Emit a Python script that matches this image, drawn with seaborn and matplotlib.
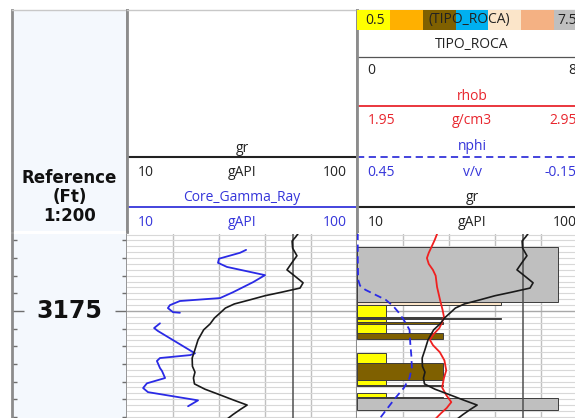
import numpy as np
import pandas as pd
import matplotlib
matplotlib.use("Agg")
import matplotlib.pyplot as plt
from matplotlib.ticker import FixedLocator, MultipleLocator
import seaborn as sns

# ---------------- data ----------------
gr_depth = [3161.5, 3162.4, 3163.1, 3164.3, 3165.6, 3166.8, 3168.0, 3169.0, 3170.2,
            3171.1, 3171.8, 3172.4, 3173.1, 3173.8, 3174.5, 3175.3, 3176.2, 3177.2,
            3178.2, 3179.9, 3181.7, 3183.0, 3184.4, 3185.4, 3186.4, 3187.4, 3188.3,
            3189.2, 3190.2, 3191.0, 3191.7, 3192.6, 3193.6]
gr_api = [77.5, 76.0, 74.6, 74.8, 76.5, 74.5, 72.6, 75.5, 78.9,
          77.7, 70.5, 64.0, 58.1, 52.0, 48.5, 46.5, 44.2, 42.5,
          40.0, 37.8, 36.5, 35.5, 35.6, 36.6, 36.0, 36.4, 40.5,
          46.0, 52.0, 57.0, 54.5, 51.5, 48.5]

core_depth = [3164.6, 3165.1, 3166.1, 3166.8, 3167.5, 3168.9, 3170.1, 3171.8, 3172.8,
              3173.3, 3174.0, 3174.5, 3175.2, 3175.3,
              3177.1, 3177.9, 3178.4, 3182.2, 3182.5, 3183.0, 3183.5, 3184.7, 3185.2,
              3186.4, 3187.3, 3188.1, 3188.8, 3190.2, 3191.2]
core_api = [56.6, 54.2, 46.0, 45.6, 49.1, 64.0, 59.3, 51.5, 46.4,
            30.7, 26.8, 26.0, 28.0, 30.7,
            22.9, 20.6, 22.1, 36.6, 34.7, 22.9, 21.7, 22.9, 23.7,
            24.9, 17.8, 16.3, 18.2, 37.8, 33.9]
core_run = [1] * 14 + [2] * 15

rhob_depth = [3161.7, 3162.9, 3164.1, 3165.1, 3166.0, 3167.0, 3168.0, 3169.0, 3170.9,
              3173.1, 3174.8, 3176.0, 3177.1, 3177.9, 3178.9, 3179.9, 3180.8, 3182.0,
              3183.4, 3185.1, 3186.4, 3188.0, 3189.3, 3190.5, 3191.5, 3192.4, 3193.4]
rhob_gcc = [2.300, 2.288, 2.274, 2.262, 2.254, 2.262, 2.280, 2.292, 2.298,
            2.311, 2.322, 2.328, 2.318, 2.308, 2.284, 2.267, 2.280, 2.310,
            2.330, 2.338, 2.328, 2.320, 2.338, 2.360, 2.340, 2.315, 2.290]

nphi_depth = [3161.7, 3166.3, 3169.7, 3170.7, 3171.4, 3172.3, 3173.1, 3174.2, 3175.2,
              3176.5, 3178.2, 3180.5, 3182.8, 3184.6, 3186.4, 3188.1, 3189.8, 3191.5, 3193.4]
nphi_vv = [0.448, 0.448, 0.447, 0.442, 0.428, 0.400, 0.375, 0.355, 0.342,
           0.328, 0.313, 0.311, 0.308, 0.307, 0.313, 0.328, 0.350, 0.370, 0.392]

rock_top = [3164.1, 3173.5, 3174.0, 3176.0, 3176.2, 3176.4, 3176.9, 3177.2, 3178.8,
            3182.2, 3183.9, 3186.8, 3187.6, 3189.0, 3189.7, 3189.8]
rock_base = [3173.5, 3174.0, 3176.0, 3176.2, 3176.4, 3176.9, 3177.2, 3178.8, 3179.8,
             3183.9, 3186.8, 3187.6, 3187.8, 3189.7, 3189.8, 3191.9]
rock_code = [7, 5, 1, 3, 5, 1, 3, 1, 3, 1, 3, 1, 3, 1, 3, 7]

rock_classes = [1, 2, 3, 4, 5, 6, 7]
rock_colors = ['#FFFF00', '#FFB000', '#7F6000', '#00B0F0', '#FBE5C9', '#F4B183', '#BFBFBF']

gr_cutoff = 75
depth_label = 3175
depth_top, depth_base = 3161.9, 3193.2

# ---------------- styling ----------------
sns.set_style("white")
plt.rcParams['font.family'] = ['Open Sans', 'DejaVu Sans']
plt.rcParams['font.size'] = 10

BLACK = '#222222'
BLUE = '#3535DA'
RED = '#E8262E'
BORDER = '#8C8C8C'

W, H = 575, 418


def box(x0, y0, x1, y1):
    # pixel box (top-left origin) -> figure fraction
    return [x0 / W, 1 - y1 / H, (x1 - x0) / W, (y1 - y0) / H]


def header_axes(fig, x0, x1, face='white'):
    ax = fig.add_axes(box(x0, 10, x1, 231))
    ax.set_xlim(0, 1)
    ax.set_ylim(231, 10)
    ax.set_xticks([])
    ax.set_yticks([])
    ax.set_facecolor(face)
    ax.spines['bottom'].set_visible(False)
    ax.spines['top'].set_color('#C8C8C8')
    ax.spines['top'].set_linewidth(1)
    for s in ['left', 'right']:
        ax.spines[s].set_color(BORDER)
        ax.spines[s].set_linewidth(2)
    return ax


def curve_header(ax, name_y, line_y, name, unit, lo, hi, color, ls='-', lw=1.3):
    ax.text(0.5, name_y, name, color=color, ha='center', va='center')
    ax.axhline(line_y, color=color, lw=lw, ls=ls)
    ax.text(0.045, line_y + 15, lo, color=color, ha='left', va='center')
    ax.text(0.5, line_y + 15, unit, color=color, ha='center', va='center')
    ax.text(0.955, line_y + 15, hi, color=color, ha='right', va='center')


def track_grid(ax, xticks):
    ax.set_xticks(xticks)
    ax.yaxis.set_major_locator(FixedLocator([depth_label]))
    ax.yaxis.set_minor_locator(MultipleLocator(1))
    ax.grid(True, axis='y', which='minor', color='#D8D8D8', lw=0.8)
    ax.grid(True, axis='y', which='major', color='#A8A8A8', lw=1)
    ax.grid(True, axis='x', which='major', color='#C0C0C0', lw=1)
    ax.tick_params(which='both', length=0, labelbottom=False, labelleft=False)
    ax.set_axisbelow(True)
    for s in ['top', 'bottom', 'left']:
        ax.spines[s].set_visible(False)
    ax.spines['right'].set_color(BORDER)
    ax.spines['right'].set_linewidth(1.5)


def overlay(ax, xlim):
    tw = ax.twiny()
    tw.set_xlim(*xlim)
    tw.set_xticks([])
    for s in tw.spines.values():
        s.set_visible(False)
    return tw


def clean(ax):
    ax.set_xlabel('')
    ax.set_ylabel('')


fig = plt.figure(figsize=(W / 100, H / 100), dpi=100)

# ---------------- headers ----------------
hd = header_axes(fig, 12, 127, face='#F4F8FD')
for y, txt in [(178, 'Reference'), (197, '(Ft)'), (216, '1:200')]:
    hd.text(0.5, y, txt, ha='center', va='center', fontsize=12,
            fontweight='bold', family='DejaVu Sans', color='#111111')

h2 = header_axes(fig, 127, 357)
curve_header(h2, 148, 157, 'gr', 'gAPI', '10', '100', BLACK, lw=1.5)
curve_header(h2, 197, 207, 'Core_Gamma_Ray', 'gAPI', '10', '100', BLUE)

h3 = header_axes(fig, 357, 587)
h3.text(0.5, 44, 'TIPO_ROCA', color=BLACK, ha='center', va='center')
h3.axhline(57, color='#555555', lw=0.9)
h3.text(0.045, 70, '0', color=BLACK, ha='left', va='center')
h3.text(0.955, 70, '8', color=BLACK, ha='right', va='center')
curve_header(h3, 96, 106, 'rhob', 'g/cm3', '1.95', '2.95', RED)
curve_header(h3, 147, 157, 'nphi', 'v/v', '0.45', '-0.15', BLUE, ls=(0, (4, 2.5)))
curve_header(h3, 197, 207, 'gr', 'gAPI', '10', '100', BLACK, lw=1.5)

cb = fig.add_axes(box(357, 10, 587, 30))
cb.bar(rock_classes, 1, width=1, color=rock_colors, linewidth=0)
cb.set_xlim(0.5, 7.5)
cb.set_ylim(0, 1)
cb.axis('off')
cb.text(0.035, 0.5, '0.5', transform=cb.transAxes, ha='left', va='center', color=BLACK)
cb.text(0.49, 0.5, '(TIPO_ROCA)', transform=cb.transAxes, ha='center', va='center', color=BLACK)
cb.text(0.955, 0.5, '7.5', transform=cb.transAxes, ha='right', va='center', color=BLACK)

# ---------------- depth track ----------------
ad = fig.add_axes(box(12, 234, 127, 418))
ad.set_facecolor('#F4F8FD')
ad.set_xlim(0, 1)
ad.set_ylim(depth_base, depth_top)
ad.set_xticks([])
ad.yaxis.set_major_locator(FixedLocator([depth_label]))
ad.yaxis.set_minor_locator(FixedLocator(np.arange(3163, 3194, 3)))
ad.tick_params(axis='y', which='both', direction='in', left=True, right=True,
               labelleft=False, color='#6E6E6E', width=1)
ad.tick_params(axis='y', which='major', length=8.5)
ad.tick_params(axis='y', which='minor', length=3.8)
for s in ['top', 'bottom']:
    ad.spines[s].set_visible(False)
for s in ['left', 'right']:
    ad.spines[s].set_color(BORDER)
    ad.spines[s].set_linewidth(2)
ad.text(0.5, depth_label, str(depth_label), ha='center', va='center',
        fontsize=17, fontweight='bold', family='DejaVu Sans', color='#111111')

# ---------------- track 2: gamma ray ----------------
a2 = fig.add_axes(box(127, 234, 357, 418))
a2.set_xlim(10, 100)
a2.set_ylim(depth_base, depth_top)
track_grid(a2, [28, 46, 64, 82])
a2.axvline(gr_cutoff, color='#505050', lw=1.1)

core_df = pd.DataFrame({'depth': core_depth, 'gr': core_api, 'run': core_run})
sns.lineplot(data=core_df, x='gr', y='depth', units='run', estimator=None, sort=False,
             color='#2A2AE6', lw=1.3, ax=a2, legend=False)
gr_df = pd.DataFrame({'depth': gr_depth, 'gr': gr_api})
sns.lineplot(data=gr_df, x='gr', y='depth', estimator=None, sort=False,
             color='#1A1A1A', lw=1.2, ax=a2, legend=False)
clean(a2)
a2.set_xlim(10, 100)

# ---------------- track 3: rock type + density/neutron + gr ----------------
a3 = fig.add_axes(box(357, 234, 587, 418))
a3.set_xlim(0, 8)
a3.set_ylim(depth_base, depth_top)
track_grid(a3, [1.6, 3.2, 4.8, 6.4])
a3.barh(rock_top, rock_code, height=np.subtract(rock_base, rock_top), align='edge',
        color=[rock_colors[c - 1] for c in rock_code], edgecolor='#3C3C3C', lw=0.7)

ar = overlay(a3, (1.95, 2.95))
rhob_df = pd.DataFrame({'depth': rhob_depth, 'rhob': rhob_gcc})
sns.lineplot(data=rhob_df, x='rhob', y='depth', estimator=None, sort=False,
             color='#F02020', lw=1.3, ax=ar, legend=False)
clean(ar)
ar.set_xlim(1.95, 2.95)

an = overlay(a3, (0.45, -0.15))
nphi_df = pd.DataFrame({'depth': nphi_depth, 'nphi': nphi_vv})
sns.lineplot(data=nphi_df, x='nphi', y='depth', estimator=None, sort=False,
             color='#2A2AE6', lw=1.3, ls=(0, (4, 2.5)), ax=an, legend=False)
clean(an)
an.set_xlim(0.45, -0.15)

ag = overlay(a3, (10, 100))
ag.axvline(gr_cutoff, color='#505050', lw=1.1)
sns.lineplot(data=gr_df, x='gr', y='depth', estimator=None, sort=False,
             color='#1A1A1A', lw=1.2, ax=ag, legend=False)
clean(ag)
ag.set_xlim(10, 100)

for ax in [a3, ar, an, ag]:
    ax.set_ylim(depth_base, depth_top)

fig.savefig('out.png', dpi=100)
